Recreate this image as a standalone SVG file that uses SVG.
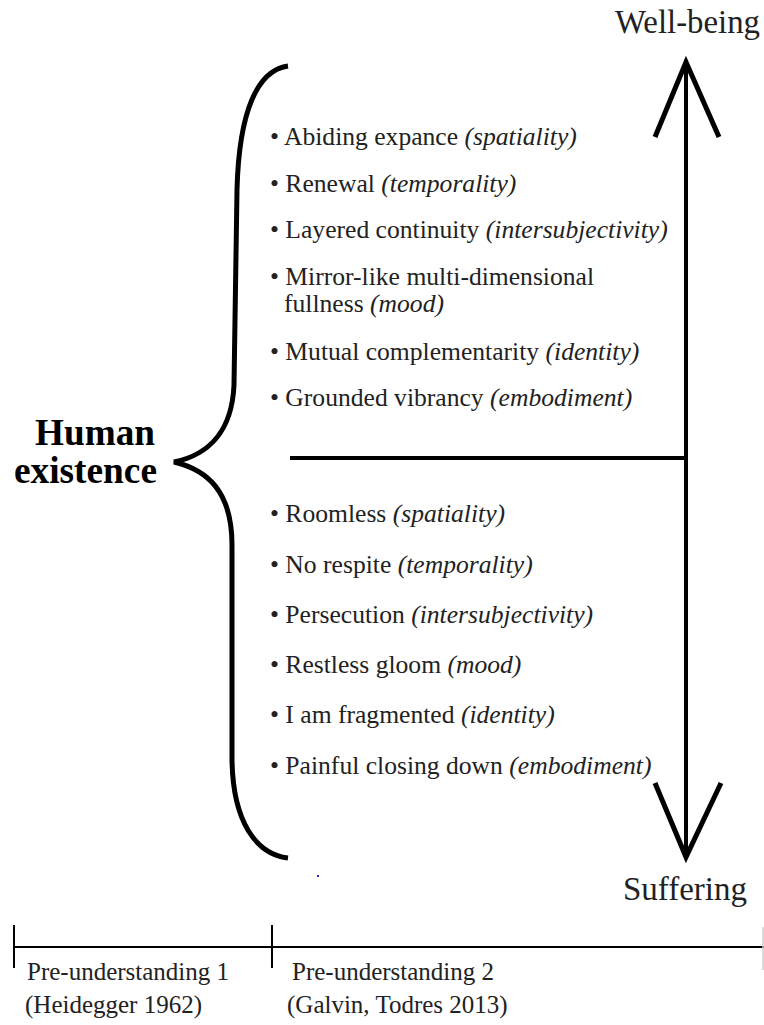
<svg xmlns="http://www.w3.org/2000/svg" width="764" height="1025" viewBox="0 0 764 1025">
<style>
.t{font-family:"Liberation Serif","Times New Roman",serif;fill:#222}
.b{font-size:25.6px}
.i{font-style:italic}
.s{stroke:#000;fill:none}
</style>
<rect width="764" height="1025" fill="#fff"/>
<g id="connectors">
<path class="s" stroke-width="5" d="M288,66 C258,70 239,110 237,190 L234,385 C232,432 208,455 174,462 C208,470 232,492 232,545 L232,760 C233,822 256,854 288,858"/>
<line class="s" stroke-width="4" x1="686" y1="60" x2="686" y2="856"/>
<polyline class="s" stroke-width="5" points="655,137 686,62 719,137"/>
<polyline class="s" stroke-width="5" points="655,783 686,857 721,783"/>
<line class="s" stroke-width="4" x1="290" y1="458" x2="686" y2="458"/>
<line class="s" stroke-width="2" x1="14" y1="947" x2="764" y2="947"/>
<line class="s" stroke-width="2" x1="14" y1="925" x2="14" y2="968"/>
<line class="s" stroke-width="2" x1="272" y1="925" x2="272" y2="968"/>
<line stroke="#ccc" stroke-width="1.5" x1="763" y1="927" x2="763" y2="970"/>
</g>
<g id="title">
<text class="t" x="35" y="445" font-size="37" font-weight="bold" textLength="120" lengthAdjust="spacingAndGlyphs" style="fill:#000">Human</text>
<text class="t" x="14" y="483" font-size="37" font-weight="bold" textLength="143" lengthAdjust="spacingAndGlyphs" style="fill:#000">existence</text>
</g>
<g id="wellbeing"><text class="t" x="615" y="33" font-size="33" textLength="145" lengthAdjust="spacingAndGlyphs">Well-being</text></g>
<g id="suffering"><text class="t" x="623" y="900" font-size="33" textLength="124" lengthAdjust="spacingAndGlyphs">Suffering</text></g>
<g id="upper">
<text class="t b" x="270" y="145">• Abiding expance <tspan class="i">(spatiality)</tspan></text>
<text class="t b" x="270" y="192">• Renewal <tspan class="i">(temporality)</tspan></text>
<text class="t b" x="270" y="238">• Layered continuity <tspan class="i">(intersubjectivity)</tspan></text>
<text class="t b" x="270" y="285">• Mirror-like multi-dimensional</text>
<text class="t b" x="284" y="312">fullness <tspan class="i">(mood)</tspan></text>
<text class="t b" x="270" y="360">• Mutual complementarity <tspan class="i">(identity)</tspan></text>
<text class="t b" x="270" y="406">• Grounded vibrancy <tspan class="i">(embodiment)</tspan></text>
</g>
<g id="lower">
<text class="t b" x="270" y="522">• Roomless <tspan class="i">(spatiality)</tspan></text>
<text class="t b" x="270" y="573">• No respite <tspan class="i">(temporality)</tspan></text>
<text class="t b" x="270" y="623">• Persecution <tspan class="i">(intersubjectivity)</tspan></text>
<text class="t b" x="270" y="673">• Restless gloom <tspan class="i">(mood)</tspan></text>
<text class="t b" x="270" y="723">• I am fragmented <tspan class="i">(identity)</tspan></text>
<text class="t b" x="270" y="774">• Painful closing down <tspan class="i">(embodiment)</tspan></text>
</g>
<g id="pre1">
<text class="t" x="27" y="980" font-size="25">Pre-understanding 1</text>
<text class="t" x="25" y="1013" font-size="25">(Heidegger 1962)</text>
</g>
<g id="pre2">
<text class="t" x="292" y="980" font-size="25">Pre-understanding 2</text>
<text class="t" x="287" y="1013" font-size="25">(Galvin, Todres 2013)</text>
</g>
<rect x="317" y="875" width="2" height="2" fill="#22c"/>
</svg>
